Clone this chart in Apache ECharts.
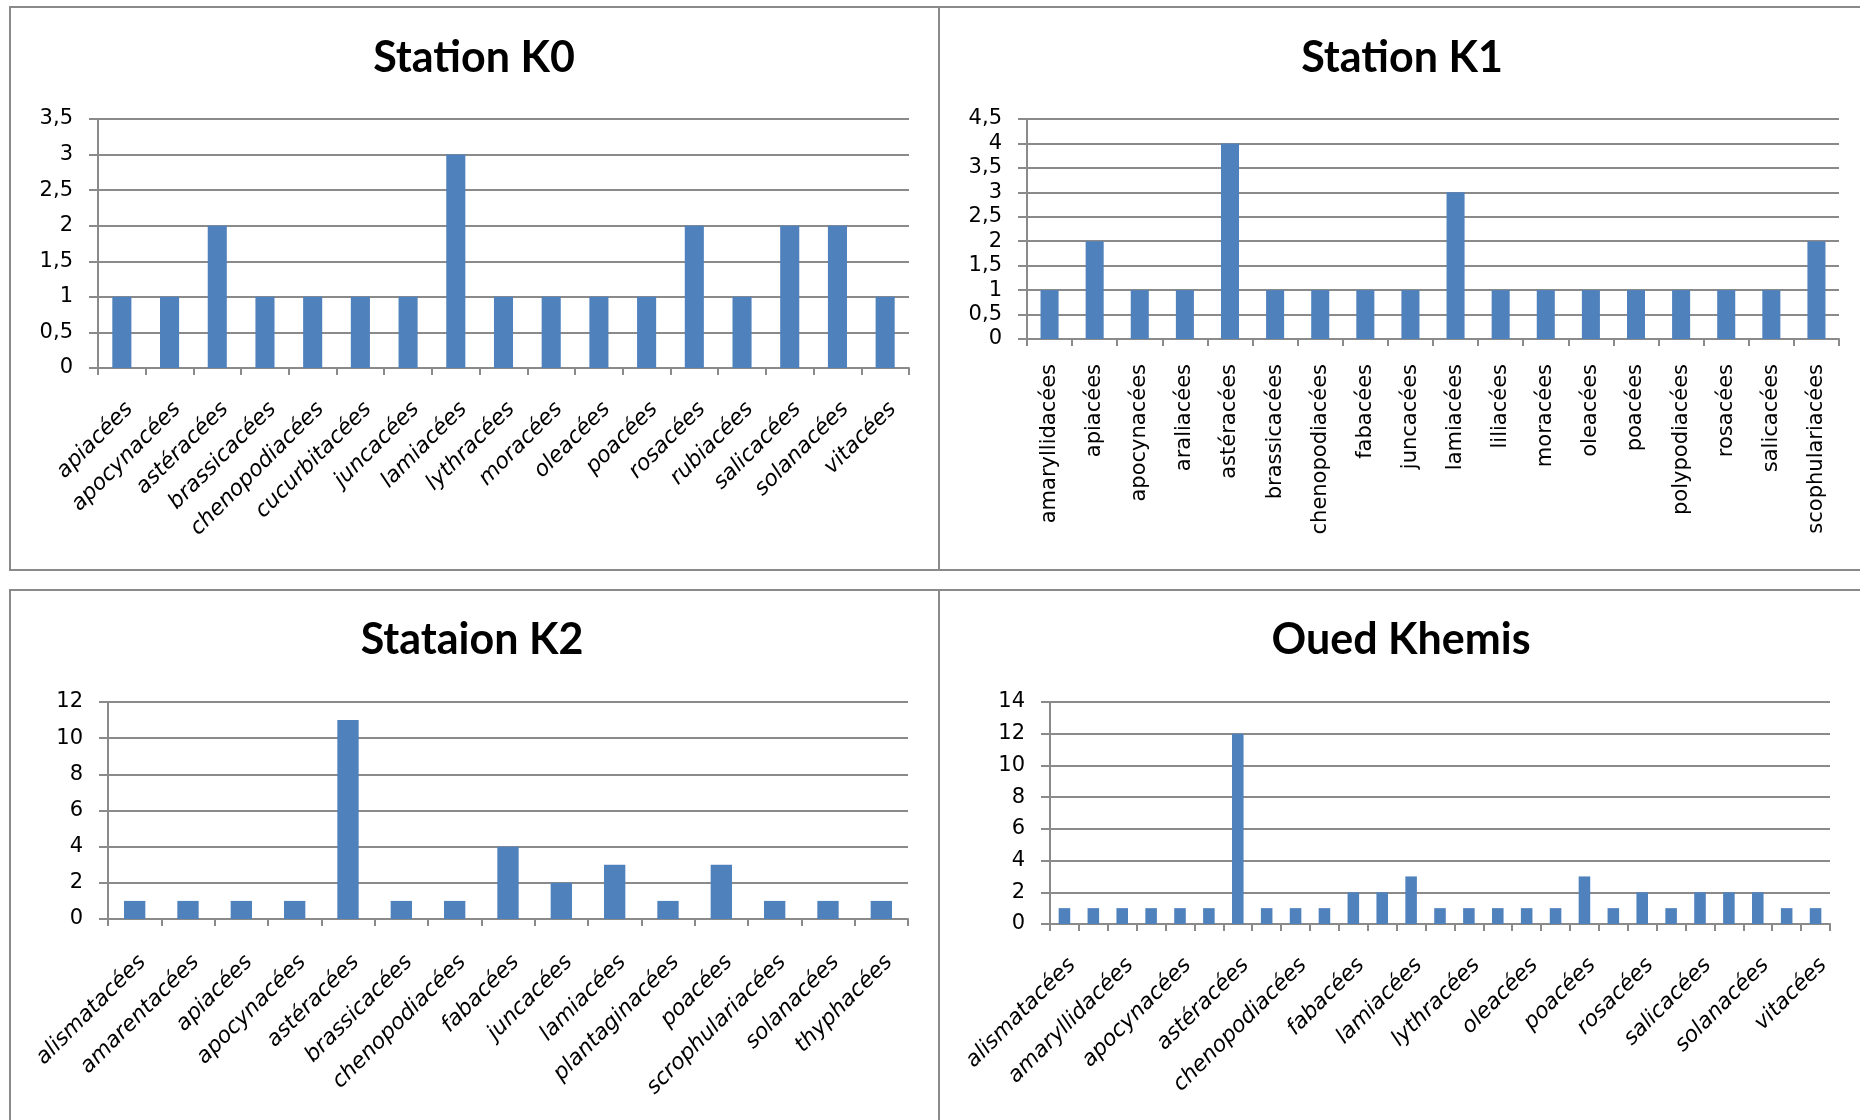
<!DOCTYPE html>
<html>
<head>
<meta charset="utf-8">
<title>Familles botaniques par station</title>
<script src="https://cdn.jsdelivr.net/npm/echarts@6/dist/echarts.min.js"></script>
<style>
  html, body { margin: 0; padding: 0; background: #fff; }
  #chart { width: 1860px; height: 1120px; }
</style>
</head>
<body>
<div id="chart"></div>
<script>
// Number of species per botanical family, for each station

const k0Families = ['apiacées', 'apocynacées', 'astéracées', 'brassicacées', 'chenopodiacées',
  'cucurbitacées', 'juncacées', 'lamiacées', 'lythracées', 'moracées', 'oleacées', 'poacées',
  'rosacées', 'rubiacées', 'salicacées', 'solanacées', 'vitacées'];
const k0Counts = [1, 1, 2, 1, 1, 1, 1, 3, 1, 1, 1, 1, 2, 1, 2, 2, 1];
const k0Ticks = ['0', '0,5', '1', '1,5', '2', '2,5', '3', '3,5'];

const k1Families = ['amaryllidacées', 'apiacées', 'apocynacées', 'araliacées', 'astéracées',
  'brassicacées', 'chenopodiacées', 'fabacées', 'juncacées', 'lamiacées', 'liliacées',
  'moracées', 'oleacées', 'poacées', 'polypodiacées', 'rosacées', 'salicacées', 'scophulariacées'];
const k1Counts = [1, 2, 1, 1, 4, 1, 1, 1, 1, 3, 1, 1, 1, 1, 1, 1, 1, 2];
const k1Ticks = ['0', '0,5', '1', '1,5', '2', '2,5', '3', '3,5', '4', '4,5'];

const k2Families = ['alismatacées', 'amarentacées', 'apiacées', 'apocynacées', 'astéracées',
  'brassicacées', 'chenopodiacées', 'fabacées', 'juncacées', 'lamiacées', 'plantaginacées',
  'poacées', 'scrophulariacées', 'solanacées', 'thyphacées'];
const k2Counts = [1, 1, 1, 1, 11, 1, 1, 4, 2, 3, 1, 3, 1, 1, 1];
const k2Ticks = ['0', '2', '4', '6', '8', '10', '12'];

const okFamilies = ['alismatacées', 'amarentacées', 'amaryllidacées', 'apiacées', 'apocynacées',
  'araliacées', 'astéracées', 'brassicacées', 'chenopodiacées', 'cucurbitacées', 'fabacées',
  'juncacées', 'lamiacées', 'liliacées', 'lythracées', 'moracées', 'oleacées', 'plantaginacées',
  'poacées', 'polypodiacées', 'rosacées', 'rubiacées', 'salicacées', 'scrophulariacées',
  'solanacées', 'thyphacées', 'vitacées'];
const okCounts = [1, 1, 1, 1, 1, 1, 12, 1, 1, 1, 2, 2, 3, 1, 1, 1, 1, 1, 3, 1, 2, 1, 2, 2, 2, 1, 1];
const okTicks = ['0', '2', '4', '6', '8', '10', '12', '14'];

const titles = ['Station K0', 'Station K1', 'Stataion K2', 'Oued Khemis'];

const BAR = '#4F81BD';
const LINE = '#8a8a8a';
const TEXT_FONT = 'DejaVu Sans';

const chart = echarts.init(document.getElementById('chart'), null, { renderer: 'canvas' });

function yAxis(gridIndex, max, interval, ticks) {
  return {
    type: 'value', gridIndex, min: 0, max, interval,
    axisLine: { show: true, lineStyle: { color: LINE, width: 2 } },
    axisTick: { show: true, length: 9, lineStyle: { color: LINE, width: 2 } },
    splitLine: { show: true, lineStyle: { color: LINE, width: 2 } },
    axisLabel: {
      margin: 25, color: '#000', fontFamily: TEXT_FONT, fontSize: 21,
      formatter: v => ticks[Math.round(v / interval)]
    }
  };
}

function xAxis(gridIndex, data, rotate, italic, labelInterval, margin, fontSize) {
  const label = {
    interval: labelInterval, rotate, margin,
    color: '#000', fontFamily: TEXT_FONT, fontSize,
    fontStyle: italic ? 'italic' : 'normal'
  };
  // slanted labels hang just right of the category centre
  if (rotate === 45) label.verticalAlign = 'top';
  return {
    type: 'category', gridIndex, data,
    axisLine: { show: true, lineStyle: { color: LINE, width: 2 } },
    axisTick: { show: true, length: 7, interval: 0, alignWithLabel: false, lineStyle: { color: LINE, width: 2 } },
    axisLabel: label
  };
}

function bars(index, data) {
  return {
    type: 'bar', xAxisIndex: index, yAxisIndex: index, data,
    barWidth: '40%', itemStyle: { color: BAR },
    silent: true, animation: false
  };
}

// panel frames and titles
const frame = (x, y, w, h) => ({
  type: 'rect', shape: { x, y, width: w, height: h },
  style: { fill: 'none', stroke: LINE, lineWidth: 2 }, silent: true
});
const heading = (x, y, text) => ({
  type: 'text', x, y,
  style: { text, textAlign: 'center', textVerticalAlign: 'middle',
    font: 'bold 43px Lato', fill: '#000' }, silent: true
});

chart.setOption({
  animation: false,
  backgroundColor: '#fff',
  grid: [
    { left: 98, top: 119, width: 811, height: 249 },
    { left: 1027, top: 119, width: 812, height: 220 },
    { left: 108, top: 702, width: 800, height: 217 },
    { left: 1050, top: 702, width: 780, height: 222 }
  ],
  xAxis: [
    xAxis(0, k0Families, 45, true, 0, 30, 22),
    xAxis(1, k1Families, 90, false, 0, 25, 21),
    xAxis(2, k2Families, 45, true, 0, 32, 22),
    xAxis(3, okFamilies, 45, true, 1, 30, 22)
  ],
  yAxis: [
    yAxis(0, 3.5, 0.5, k0Ticks),
    yAxis(1, 4.5, 0.5, k1Ticks),
    yAxis(2, 12, 2, k2Ticks),
    yAxis(3, 14, 2, okTicks)
  ],
  series: [
    bars(0, k0Counts),
    bars(1, k1Counts),
    bars(2, k2Counts),
    bars(3, okCounts)
  ],
  graphic: [
    frame(10, 7, 929, 563),
    frame(939, 7, 940, 563),
    frame(10, 590, 929, 560),
    frame(939, 590, 940, 560),
    heading(474, 58, titles[0]),
    heading(1402, 58, titles[1]),
    heading(472, 640, titles[2]),
    heading(1401, 640, titles[3])
  ]
});
</script>
</body>
</html>
